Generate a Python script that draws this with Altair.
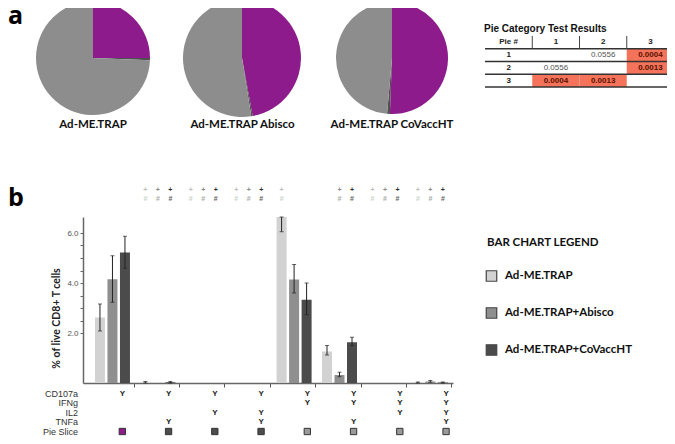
import altair as alt
import pandas as pd

# ---------------- data ----------------
groups = ["CD107a", "CD107a+TNFa", "CD107a+IL2", "CD107a+IL2+TNFa",
          "CD107a+IFNg", "CD107a+IFNg+TNFa", "CD107a+IFNg+IL2", "CD107a+IFNg+IL2+TNFa"]
series = ["Ad-ME.TRAP", "Ad-ME.TRAP+Abisco", "Ad-ME.TRAP+CoVaccHT"]

trap_mean = [2.62, 0.03, 0.0, 0.0, 6.64, 1.26, 0.0, 0.02]
trap_lo = [2.08, 0.00, 0.0, 0.0, 6.05, 1.12, 0.0, 0.00]
trap_hi = [3.16, 0.06, 0.0, 0.0, 6.64, 1.50, 0.0, 0.04]
abisco_mean = [4.15, 0.00, 0.0, 0.0, 4.14, 0.32, 0.0, 0.06]
abisco_lo = [3.23, 0.00, 0.0, 0.0, 3.60, 0.25, 0.0, 0.03]
abisco_hi = [5.09, 0.00, 0.0, 0.0, 4.74, 0.43, 0.0, 0.10]
covacc_mean = [5.22, 0.03, 0.0, 0.0, 3.33, 1.63, 0.0, 0.02]
covacc_lo = [4.59, 0.00, 0.0, 0.0, 2.73, 1.49, 0.0, 0.00]
covacc_hi = [5.87, 0.06, 0.0, 0.0, 4.00, 1.83, 0.0, 0.04]

# significance marks shown above each group ("+" and "#"), per series
sig_trap = [0, 1, 1, 1, 1, 0, 1, 1]
sig_abisco = [0, 1, 1, 1, 0, 1, 1, 1]
sig_covacc = [0, 1, 1, 1, 0, 1, 1, 1]

# function matrix below the bar chart
markers = ["CD107a", "IFNg", "IL2", "TNFa"]
has_cd107a = [1, 1, 1, 1, 1, 1, 1, 1]
has_ifng = [0, 0, 0, 0, 1, 1, 1, 1]
has_il2 = [0, 0, 1, 1, 0, 0, 1, 1]
has_tnfa = [0, 1, 0, 1, 0, 1, 0, 1]
slice_cats = ["CD107a only", "CD107a + IL2/TNFa", "CD107a + IFNg"]
group_slice = [0, 1, 1, 1, 2, 2, 2, 2]

# pies (fractions)
pie_names = ["Ad-ME.TRAP", "Ad-ME.TRAP Abisco", "Ad-ME.TRAP CoVaccHT"]
pie_trap = [0.250, 0.006, 0.744]
pie_abisco = [0.471, 0.004, 0.525]
pie_covacc = [0.506, 0.008, 0.486]

# test result table
table_cols = ["Pie #", "1", "2", "3"]
table_rows = ["1", "2", "3"]
pvals = [["", "0.0556", "0.0004"],
         ["0.0556", "", "0.0013"],
         ["0.0004", "0.0013", ""]]
signif = [[0, 0, 1], [0, 0, 1], [1, 1, 0]]

# ---------------- styling / layout ----------------
W, H = 370, 166
OX, OY = 83, 217          # page position of the bar-chart plot origin


def px(x):
    return x - OX


def py(y):
    return y - OY


BOLD = "Lato"
SANS = "Liberation Sans"
bar_colors = ["#d2d2d2", "#8f8f8f", "#4b4b4b"]
slice_colors = ["#8d1b8b", "#4d4d4d", "#9a9a9a"]
pie_colors = ["#8d1b8b", "#505050", "#8d8d8d"]
SALMON = "#f4735a"

# ---------------- tables ----------------
means = [trap_mean, abisco_mean, covacc_mean]
los = [trap_lo, abisco_lo, covacc_lo]
his = [trap_hi, abisco_hi, covacc_hi]
rows = []
for s, name in enumerate(series):
    for g, grp in enumerate(groups):
        rows.append(dict(group=grp, series=name, mean=means[s][g], lo=los[s][g], hi=his[s][g]))
bar_df = pd.DataFrame(rows)
err_df = bar_df[bar_df["hi"] > bar_df["lo"]]

sigs = [sig_trap, sig_abisco, sig_covacc]
ann = []
for s, name in enumerate(series):
    for g, grp in enumerate(groups):
        if sigs[s][g]:
            for sym in ["+", "#"]:
                ann.append(dict(group=grp, series=name, sym=sym, tone=f"{s}{sym}"))
ann_df = pd.DataFrame(ann)
tone_dom = ["0+", "1+", "2+", "0#", "1#", "2#"]
tone_rng = ["#bdbdbd", "#8a8a8a", "#2e2e2e", "#c9d3c9", "#a3aba3", "#5e5e5e"]

flags = [has_cd107a, has_ifng, has_il2, has_tnfa]
mat = []
for m, mk in enumerate(markers):
    for g, grp in enumerate(groups):
        if flags[m][g]:
            mat.append(dict(group=grp, row=mk, t="Y"))
mat_df = pd.DataFrame(mat)
row_names = markers + ["Pie Slice"]
rowlab_df = pd.DataFrame(dict(row=row_names))
sq_df = pd.DataFrame(dict(group=groups, row="Pie Slice", cat=[slice_cats[i] for i in group_slice]))

# ---------------- scales ----------------
xs = alt.Scale(domain=groups, paddingInner=0, paddingOuter=0.074, align=0.85)
xo = alt.Scale(domain=series, range=[5, 42.5], paddingInner=0.2, paddingOuter=0.1)
ys = alt.Scale(domain=[0, 6.64], nice=False, zero=True)
row_scale = alt.Scale(type="point", domain=row_names, range=[py(394), py(431.5)], padding=0)

# ---------------- bar chart ----------------
bars = alt.Chart(bar_df).mark_bar().encode(
    x=alt.X("group:N", scale=xs,
            axis=alt.Axis(labels=False, title=None, bandPosition=1, tickSize=4,
                          tickColor="#555", domainColor="#666", domainWidth=1.5, grid=False)),
    xOffset=alt.XOffset("series:N", scale=xo),
    y=alt.Y("mean:Q", scale=ys,
            axis=alt.Axis(values=[2, 2.5, 3, 3.5, 4, 4.5, 5, 5.5, 6],
                          labelExpr="datum.value % 2 == 0 ? format(datum.value, '.1f') : ''",
                          labelFont=SANS, labelFontSize=8, labelColor="#555", labelPadding=2,
                          tickSize=3, tickColor="#666", domainColor="#666", domainWidth=1.5,
                          grid=False, title="% of live CD8+ T cells", titleFont=BOLD,
                          titleFontSize=10.5, titleFontWeight="bold", titleColor="#222",
                          titleAngle=270, titleX=-27, titleY=py(318),
                          titleAlign="center", titleBaseline="middle")),
    color=alt.Color("series:N", scale=alt.Scale(domain=series, range=bar_colors), legend=None),
)

err_rule = alt.Chart(err_df).mark_rule(color="#222", strokeWidth=1).encode(
    x=alt.X("group:N", scale=xs, axis=None),
    xOffset=alt.XOffset("series:N", scale=xo),
    y=alt.Y("lo:Q", scale=ys, axis=None),
    y2="hi:Q",
)
cap_hi = alt.Chart(err_df).mark_tick(color="#222", size=4, thickness=1).encode(
    x=alt.X("group:N", scale=xs, axis=None),
    xOffset=alt.XOffset("series:N", scale=xo),
    y=alt.Y("hi:Q", scale=ys, axis=None),
)
cap_lo = alt.Chart(err_df).mark_tick(color="#222", size=4, thickness=1).encode(
    x=alt.X("group:N", scale=xs, axis=None),
    xOffset=alt.XOffset("series:N", scale=xo),
    y=alt.Y("lo:Q", scale=ys, axis=None),
)

annot = alt.Chart(ann_df).mark_text(font=SANS, fontSize=7, fontWeight="bold").encode(
    x=alt.X("group:N", scale=xs, axis=None),
    xOffset=alt.XOffset("series:N", scale=xo),
    y=alt.Y("sym:N", scale=alt.Scale(type="point", domain=["+", "#"], range=[py(190), py(199)], padding=0), axis=None),
    text="sym:N",
    color=alt.Color("tone:N", scale=alt.Scale(domain=tone_dom, range=tone_rng), legend=None),
)

mat_text = alt.Chart(mat_df).mark_text(font=SANS, fontSize=8, fontWeight="bold", color="#222").encode(
    x=alt.X("group:N", scale=xs, axis=None),
    y=alt.Y("row:N", scale=row_scale, axis=None),
    text="t:N",
)
row_labels = alt.Chart(rowlab_df).mark_text(font=SANS, fontSize=9, color="#333", align="right").encode(
    x=alt.value(px(78)),
    y=alt.Y("row:N", scale=row_scale, axis=None),
    text="row:N",
)
slice_sq = alt.Chart(sq_df).mark_square(size=40, stroke="#333", strokeWidth=1, opacity=1).encode(
    x=alt.X("group:N", scale=xs, axis=None),
    y=alt.Y("row:N", scale=row_scale, axis=None),
    color=alt.Color("cat:N", scale=alt.Scale(domain=slice_cats, range=slice_colors), legend=None),
)

# ---------------- pies ----------------
pie_layers = []
for name, fr, cx, r in [(pie_names[0], pie_trap, 93, 57),
                        (pie_names[1], pie_abisco, 242, 59),
                        (pie_names[2], pie_covacc, 392, 56)]:
    d = pd.DataFrame(dict(cat=slice_cats, frac=fr, k=[0, 1, 2]))
    pie_layers.append(
        alt.Chart(d).mark_arc(radius=r).encode(
            theta=alt.Theta("frac:Q", scale=alt.Scale(domain=[0, 1])),
            order=alt.Order("k:Q"),
            color=alt.Color("cat:N", scale=alt.Scale(domain=slice_cats, range=pie_colors), legend=None),
            x=alt.value(px(cx)),
            y=alt.value(py(58)),
        )
    )
pie_lab = alt.Chart(pd.DataFrame(dict(pie=pie_names))).mark_text(
    font=BOLD, fontSize=11.5, fontWeight="bold", color="#111").encode(
    x=alt.X("pie:N", scale=alt.Scale(type="point", domain=pie_names, range=[px(93), px(392)], padding=0), axis=None),
    y=alt.value(py(125)),
    text="pie:N",
)

# ---------------- table ----------------
cells = []
for c, col in enumerate(table_cols):
    cells.append(dict(row="h", col=col, t=col, kind="head"))
for r, rn in enumerate(table_rows):
    cells.append(dict(row=rn, col="Pie #", t=rn, kind="head"))
    for c in range(3):
        cells.append(dict(row=rn, col=table_cols[c + 1], t=pvals[r][c],
                          kind="sig" if signif[r][c] else "val"))
cell_df = pd.DataFrame(cells)
tx = alt.Scale(type="band", domain=table_cols, range=[px(485), px(674)], paddingInner=0, paddingOuter=0)
ty = alt.Scale(type="band", domain=["h"] + table_rows, range=[py(36), py(87)], paddingInner=0, paddingOuter=0)

cell_rect = alt.Chart(cell_df[cell_df["kind"] == "sig"]).mark_rect(color=SALMON).encode(
    x=alt.X("col:N", scale=tx, axis=None), y=alt.Y("row:N", scale=ty, axis=None))
head_text = alt.Chart(cell_df[cell_df["kind"] == "head"]).mark_text(
    font=SANS, fontSize=8, fontWeight="bold", color="#222").encode(
    x=alt.X("col:N", scale=tx, axis=None), y=alt.Y("row:N", scale=ty, axis=None), text="t:N")
val_text = alt.Chart(cell_df[cell_df["kind"] == "val"]).mark_text(
    font=SANS, fontSize=8, color="#555").encode(
    x=alt.X("col:N", scale=tx, axis=None), y=alt.Y("row:N", scale=ty, axis=None), text="t:N")
sig_text = alt.Chart(cell_df[cell_df["kind"] == "sig"]).mark_text(
    font=SANS, fontSize=8, fontWeight="bold", color="#5a1200").encode(
    x=alt.X("col:N", scale=tx, axis=None), y=alt.Y("row:N", scale=ty, axis=None), text="t:N")

lx = alt.Scale(domain=[0, 4], range=[px(485), px(674)], nice=False, zero=False)
ly = alt.Scale(domain=[0, 4], range=[py(36), py(87)], nice=False, zero=False)
hlines = alt.Chart(pd.DataFrame(dict(x0=[0, 0, 0, 0], x1=[4, 4, 4, 4], yb=[1, 2, 3, 4]))).mark_rule(
    color="#333", strokeWidth=1.5).encode(
    x=alt.X("x0:Q", scale=lx, axis=None), x2="x1:Q",
    y=alt.Y("yb:Q", scale=ly, axis=None))
vlines = alt.Chart(pd.DataFrame(dict(xb=[1, 2, 3, 4], y0=[0, 0, 0, 0], y1=[1, 1, 1, 1]))).mark_rule(
    color="#444", strokeWidth=1).encode(
    x=alt.X("xb:Q", scale=lx, axis=None),
    y=alt.Y("y0:Q", scale=ly, axis=None), y2="y1:Q")
table_title = alt.Chart(pd.DataFrame(dict(t=["Pie Category Test Results"]))).mark_text(
    font="Liberation Sans Narrow, Liberation Sans", fontSize=10, fontWeight="bold",
    color="#111", align="left").encode(
    x=alt.value(px(484)), y=alt.value(py(29)), text="t:N")

# ---------------- bar legend ----------------
leg_y = alt.Scale(type="point", domain=series, range=[py(276), py(350)], padding=0)
leg_title = alt.Chart(pd.DataFrame(dict(t=["BAR CHART LEGEND"]))).mark_text(
    font=BOLD, fontSize=11.5, fontWeight="bold", color="#111", align="left").encode(
    x=alt.value(px(487)), y=alt.value(py(243)), text="t:N")
leg_sq = alt.Chart(pd.DataFrame(dict(series=series))).mark_square(
    size=110, stroke="#444", strokeWidth=1.2, opacity=1).encode(
    x=alt.value(px(491.5)),
    y=alt.Y("series:N", scale=leg_y, axis=None),
    color=alt.Color("series:N", scale=alt.Scale(domain=series, range=bar_colors), legend=None))
leg_lab = alt.Chart(pd.DataFrame(dict(series=series))).mark_text(
    font=BOLD, fontSize=11.5, fontWeight="bold", color="#111", align="left").encode(
    x=alt.value(px(505)),
    y=alt.Y("series:N", scale=leg_y, axis=None),
    text="series:N")

# ---------------- panel letters ----------------
letters = alt.Chart(pd.DataFrame(dict(t=["a", "b"], k=[0, 1]))).mark_text(
    font="Open Sans", fontSize=25, fontWeight="bold", color="#000", align="left",
    baseline="alphabetic").encode(
    x=alt.value(px(8)),
    y=alt.Y("k:O", scale=alt.Scale(type="point", domain=[0, 1], range=[py(24), py(206)], padding=0), axis=None),
    text="t:N")

chart = alt.layer(
    bars, err_rule, cap_hi, cap_lo, annot, mat_text, row_labels, slice_sq,
    *pie_layers, pie_lab,
    cell_rect, hlines, vlines, head_text, val_text, sig_text, table_title,
    leg_title, leg_sq, leg_lab, letters,
).resolve_scale(
    x="independent", y="independent", color="independent", theta="independent"
).properties(
    width=W, height=H,
    padding={"left": 75, "top": 209, "right": 214, "bottom": 53},
    autosize=alt.AutoSizeParams(type="none"),
).configure_view(strokeWidth=0)

chart.save("out.html", embed_options={"renderer": "svg", "actions": False})
